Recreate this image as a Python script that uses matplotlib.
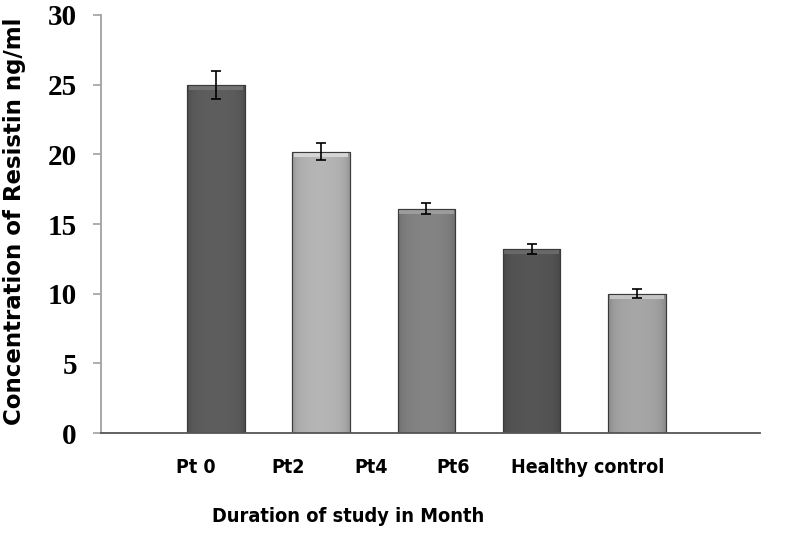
import numpy as np
import matplotlib
matplotlib.use('Agg')
import matplotlib.pyplot as plt
import matplotlib.colors as mcolors

# data
categories = ['Pt 0', 'Pt2', 'Pt4', 'Pt6', 'Healthy control']
resistin = [25.0, 20.2, 16.1, 13.2, 10.0]
errors = [1.0, 0.6, 0.4, 0.35, 0.33]
bar_colors = ['#575757', '#a8a8a8', '#7a7a7a', '#4f4f4f', '#9a9a9a']

# label anchors are offset from bar centres in the original
label_pos = [-0.19, 0.68, 1.47, 2.25, 3.53]

fig = plt.figure(figsize=(7.98, 5.34), dpi=100)
ax = fig.add_axes([0.126, 0.189, 0.826, 0.783])

x = np.arange(len(categories))
bars = ax.bar(x, resistin, width=0.55, color=bar_colors,
              edgecolor='#3a3a3a', linewidth=0.8, zorder=2)

# fake the excel bevel: darker edges, lighter strip on top
for b, col in zip(bars, bar_colors):
    rgb = np.array(mcolors.to_rgb(col))
    xs = np.linspace(-1, 1, 60)
    shade = 1.0 + 0.08 * (1 - xs**2) - 0.12 * xs**8
    img = np.clip(rgb[None, None, :] * shade[None, :, None], 0, 1)
    img = np.repeat(img, 2, axis=0)
    x0, w, h = b.get_x(), b.get_width(), b.get_height()
    im = ax.imshow(img, extent=[x0, x0 + w, 0, h], aspect='auto',
                   interpolation='bilinear', zorder=2.1)
    im.set_clip_path(b)
    top = np.clip(rgb * 1.22 + 0.03, 0, 1)
    ax.bar(b.get_x() + w / 2, 0.3, width=w * 0.94, bottom=h - 0.36,
           color=top, edgecolor='none', zorder=2.2)
    ax.bar(b.get_x() + w / 2, h, width=w, color='none',
           edgecolor='#3a3a3a', linewidth=0.8, zorder=2.3)

ax.errorbar(x, resistin, yerr=errors, fmt='none', ecolor='black',
            elinewidth=1.2, capsize=3.6, capthick=1.2, zorder=3)

ax.set_xlim(-1.10, 5.17)
ax.set_ylim(0, 30)
ax.set_yticks(np.arange(0, 31, 5))
ax.set_yticklabels([str(v) for v in range(0, 31, 5)],
                   family='Liberation Serif', fontweight='bold', fontsize=21)
ax.tick_params(axis='y', length=6, width=1.2, color='#a0a0a0', pad=11)

ax.set_xticks(label_pos)
ax.set_xticklabels(categories, family='DejaVu Sans', fontstretch='condensed',
                   fontweight='bold', fontsize=14)
ax.tick_params(axis='x', length=0, pad=18)

for s in ['top', 'right']:
    ax.spines[s].set_visible(False)
ax.spines['left'].set_color('#a0a0a0')
ax.spines['left'].set_linewidth(1.3)
ax.spines['bottom'].set_color('#555555')
ax.spines['bottom'].set_linewidth(1.3)

fig.text(0.018, 0.585, 'Concentration of Resistin ng/ml', rotation=90,
         ha='center', va='center', fontsize=16.5, fontweight='bold',
         family='DejaVu Sans')
fig.text(0.436, 0.032, 'Duration of study in Month', ha='center', va='center',
         fontsize=14.3, fontweight='bold', family='DejaVu Sans',
         fontstretch='condensed')

fig.savefig('out.png', dpi=100)
